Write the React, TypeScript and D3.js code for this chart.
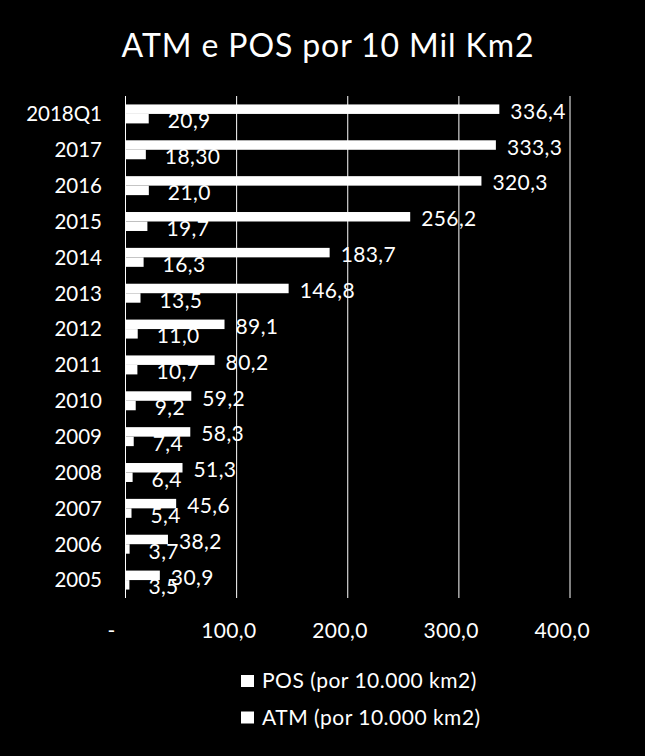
import React from "react";
import * as d3 from "d3";

const categories = ["2018Q1", "2017", "2016", "2015", "2014", "2013", "2012", "2011", "2010", "2009", "2008", "2007", "2006", "2005"];
const posValues = [336.4, 333.3, 320.3, 256.2, 183.7, 146.8, 89.1, 80.2, 59.2, 58.3, 51.3, 45.6, 38.2, 30.9];
const atmValues = [20.9, 18.3, 21.0, 19.7, 16.3, 13.5, 11.0, 10.7, 9.2, 7.4, 6.4, 5.4, 3.7, 3.5];
const posLabels = ["336,4", "333,3", "320,3", "256,2", "183,7", "146,8", "89,1", "80,2", "59,2", "58,3", "51,3", "45,6", "38,2", "30,9"];
const atmLabels = ["20,9", "18,30", "21,0", "19,7", "16,3", "13,5", "11,0", "10,7", "9,2", "7,4", "6,4", "5,4", "3,7", "3,5"];
const xTicks = [0, 100, 200, 300, 400];
const xTickLabels = ["-", "100,0", "200,0", "300,0", "400,0"];
const seriesNames = ["POS (por 10.000 km2)", "ATM (por 10.000 km2)"];
const title = "ATM e POS por 10 Mil Km2";

const W = 645;
const H = 756;
const FONT = "Lato, 'Open Sans', sans-serif";

export default function App() {
  const x = d3.scaleLinear().domain([0, 400]).range([125.5, 570]);
  const y = d3.scaleBand<string>().domain(categories).range([96, 598]).padding(0);
  const sub = d3.scaleBand<string>().domain(["POS", "ATM"]).range([0, y.bandwidth()]).paddingInner(0).paddingOuter(0.89);
  const bh = sub.bandwidth();

  return (
    <svg width={W} height={H} style={{ position: "absolute", left: 0, top: 0, background: "#000" }} fontFamily={FONT}>
      <rect x={0} y={0} width={W} height={H} fill="#000" />
      <text x={328} y={57} textAnchor="middle" fill="#fff" fontSize={32} letterSpacing={0.9}>{title}</text>

      {xTicks.map((t) => (
        <line key={"g" + t} x1={x(t)} x2={x(t)} y1={96} y2={598} stroke="#fff" strokeWidth={1} />
      ))}

      {categories.map((c, i) => {
        const y0 = y(c)!;
        const py = y0 + sub("POS")!;
        const ay = y0 + sub("ATM")!;
        return (
          <g key={c}>
            <text x={102} y={y0 + y.bandwidth() / 2} dy="0.36em" textAnchor="end" fill="#fff" fontSize={20.5}>{c}</text>
            <text x={x(atmValues[i]) + 19} y={ay + bh / 2 + 2} dy="0.36em" fill="#fff" fontSize={21} letterSpacing={0.4}>{atmLabels[i]}</text>
            <rect x={x(0)} y={py} width={x(posValues[i]) - x(0)} height={bh} fill="#fff" />
            <rect x={x(0)} y={ay} width={x(atmValues[i]) - x(0)} height={bh} fill="#fff" />
            <text x={x(posValues[i]) + 11} y={py + bh / 2 + 2} dy="0.36em" fill="#fff" fontSize={21} letterSpacing={0.4}>{posLabels[i]}</text>
          </g>
        );
      })}

      {xTicks.map((t, i) => (
        <text key={"t" + t} x={i === 0 ? x(t) - 14 : x(t) + 20} y={630.5} dy="0.36em" textAnchor={i === 0 ? "middle" : "end"} fill="#fff" fontSize={21} letterSpacing={0.4}>{xTickLabels[i]}</text>
      ))}

      {seriesNames.map((s, i) => (
        <g key={s}>
          <rect x={241} y={675 + i * 36.5} width={13} height={12} fill="#fff" />
          <text x={262} y={680.5 + i * 36.5} dy="0.36em" fill="#fff" fontSize={21} letterSpacing={0.5}>{s}</text>
        </g>
      ))}
    </svg>
  );
}
